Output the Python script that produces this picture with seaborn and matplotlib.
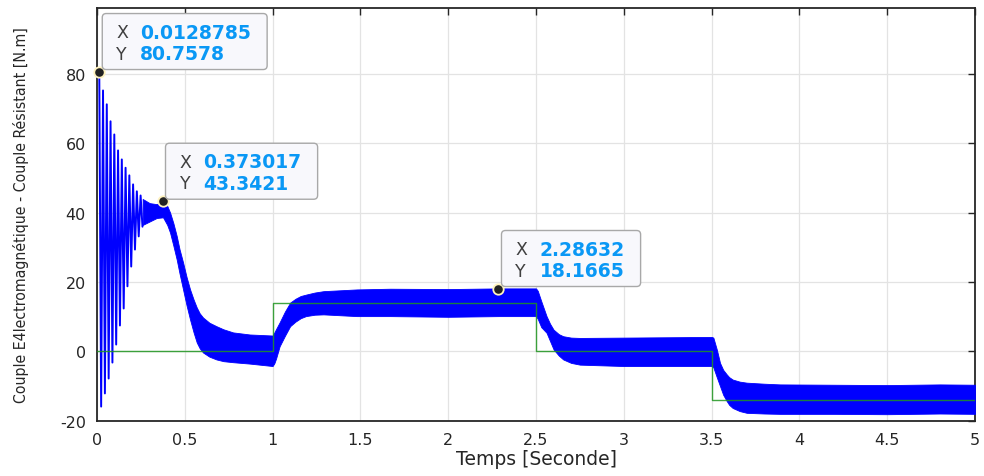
import numpy as np
import pandas as pd
import matplotlib
matplotlib.use("Agg")
import matplotlib.pyplot as plt
import matplotlib.transforms as mtransforms
from matplotlib.patches import FancyBboxPatch
from matplotlib import font_manager
import seaborn as sns

# ---------------- data ----------------
# start-up transient: alternating peaks / troughs of the torque
peak_t = [0.0129, 0.0343, 0.0557, 0.0771, 0.0985, 0.1199, 0.1413, 0.1627, 0.1841, 0.2055, 0.2269, 0.2483]
peak_v = [80.76, 75.3, 71.3, 66.4, 62.6, 58.0, 55.4, 53.0, 50.8, 48.2, 46.2, 45.0]
trough_t = [0.0236, 0.0450, 0.0664, 0.0878, 0.1092, 0.1306, 0.1520, 0.1734, 0.1948, 0.2162, 0.2376, 0.2590]
trough_v = [-15.9, -12.1, -7.8, -3.2, 2.0, 7.5, 12.4, 18.8, 24.5, 29.4, 33.2, 36.0]

# ripple band (upper / lower envelope of the electromagnetic torque)
env_t = [0.26, 0.30, 0.34, 0.376, 0.40, 0.416, 0.435, 0.454, 0.47, 0.49,
         0.51, 0.53, 0.55, 0.568, 0.585, 0.604, 0.64, 0.68, 0.72, 0.775,
         0.87, 1.0, 1.01, 1.02, 1.04, 1.07, 1.10, 1.13, 1.16, 1.19,
         1.24, 1.29, 1.48, 1.67, 2.0, 2.29, 2.5, 2.51, 2.53, 2.56,
         2.58, 2.60, 2.63, 2.655, 2.70, 2.75, 3.0, 3.25, 3.5, 3.51,
         3.53, 3.548, 3.566, 3.586, 3.60, 3.62, 3.66, 3.70, 3.80, 3.89,
         4.2, 4.5, 4.8, 5.0]
env_hi = [44.0, 42.8, 42.5, 43.3, 42.0, 40.1, 37.0, 33.3, 29.5, 25.7,
          21.5, 17.9, 15.0, 12.7, 11.0, 9.8, 8.3, 7.3, 6.4, 5.5,
          4.9, 4.6, 5.5, 6.5, 8.4, 11.5, 14.1, 15.2, 16.0, 16.4,
          17.0, 17.4, 17.9, 18.1, 18.0, 18.2, 18.2, 17.5, 14.5, 10.2,
          8.0, 6.3, 5.0, 4.4, 4.0, 3.9, 4.0, 4.1, 4.2, 4.0,
          0.5, -3.3, -5.3, -6.6, -7.4, -8.1, -8.7, -9.0, -9.3, -9.5,
          -9.6, -9.7, -9.5, -9.6]
env_lo = [36.5, 37.5, 38.5, 38.7, 36.5, 34.3, 30.5, 26.5, 22.5, 17.9,
          13.3, 9.2, 5.5, 2.6, 0.9, -0.3, -1.5, -2.3, -2.8, -3.1,
          -3.5, -4.2, -3.4, -2.0, 1.5, 4.5, 7.3, 8.6, 9.6, 10.2,
          10.6, 10.7, 10.2, 10.2, 10.0, 10.2, 10.2, 9.4, 7.0, 5.4,
          3.0, 0.6, -1.2, -2.3, -3.3, -3.8, -4.2, -4.2, -4.2, -4.6,
          -7.5, -10.0, -12.5, -14.3, -15.4, -16.3, -17.2, -17.7, -17.9, -18.0,
          -18.0, -18.1, -17.9, -18.0]

# load torque (step profile)
load_t = [0.0, 1.0, 2.5, 3.5, 5.0]
load_v = [0.0, 14.0, 0.0, -14.0, -14.0]

# data tips
tip_x = [0.0128785, 0.373017, 2.28632]
tip_y = [80.7578, 43.3421, 18.1665]

x_ticks = [0, 0.5, 1, 1.5, 2, 2.5, 3, 3.5, 4, 4.5, 5]
x_tick_labels = ["0", "0.5", "1", "1.5", "2", "2.5", "3", "3.5", "4", "4.5", "5"]
y_ticks = [-20, 0, 20, 40, 60, 80]
y_tick_labels = ["-20", "0", "20", "40", "60", "80"]

x_label = "Temps [Seconde]"
y_label = "Couple E4lectromagnétique - Couple Résistant [N.m]"

# ---------------- style ----------------
sns.set_theme(style="white")
plt.rcParams['font.family'] = ['DejaVu Sans']

# look for a condensed / narrow font for the y label
ylab_prop = None
for f in font_manager.fontManager.ttflist:
    nm = f.fname.lower()
    if f.weight in (400, 'normal', 'regular') and f.style == 'normal' and \
            ('narrow' in nm or 'condensed' in nm) and 'bold' not in nm and 'mono' not in nm:
        ylab_prop = font_manager.FontProperties(fname=f.fname)
        break
if ylab_prop is None:
    ylab_prop = font_manager.FontProperties(family='Liberation Sans')

W, H, DPI = 984, 477, 100
fig = plt.figure(figsize=(W / DPI, H / DPI), dpi=DPI)
fig.patch.set_facecolor('white')
ax_l, ax_r, ax_t, ax_b = 97, 975, 9.3, 421.8
ax = fig.add_axes([ax_l / W, 1 - ax_b / H, (ax_r - ax_l) / W, (ax_b - ax_t) / H])
ax.set_facecolor('white')

BLUE = '#0000ff'
GREEN = '#1f951f'

# transient zig-zag
zz_t = np.ravel(np.column_stack([peak_t, trough_t]))
zz_v = np.ravel(np.column_stack([peak_v, trough_v]))
df_zz = pd.DataFrame({'t': zz_t, 'v': zz_v})
sns.lineplot(data=df_zz, x='t', y='v', sort=False, estimator=None,
             color=BLUE, lw=1.4, ax=ax, zorder=3)

# ripple band
ax.fill_between(env_t, env_lo, env_hi, color=BLUE, lw=0.6, edgecolor=BLUE, zorder=3)

# load torque
df_load = pd.DataFrame({'t': load_t, 'v': load_v})
sns.lineplot(data=df_load, x='t', y='v', sort=False, estimator=None,
             drawstyle='steps-post', color=GREEN, lw=1.0, alpha=0.85, ax=ax, zorder=4)

# axes
ax.set_xlim(0, 5)
ax.set_ylim(-20, 99)
ax.set_xticks(x_ticks)
ax.set_xticklabels(x_tick_labels)
ax.set_yticks(y_ticks)
ax.set_yticklabels(y_tick_labels)
ax.grid(True, color='#e3e3e3', lw=0.9)
ax.set_axisbelow(True)
for s in ax.spines.values():
    s.set_visible(True)
    s.set_color('#262626')
    s.set_linewidth(1.3)
ax.tick_params(axis='both', which='both', direction='in', length=5, width=1.0,
               color='#262626', labelcolor='#262626', labelsize=11.5,
               top=True, right=True, pad=8)

ax.set_xlabel(x_label, fontsize=13.5, color='#262626')
ax.xaxis.set_label_coords(0.5, -(450 - ax_b) / (ax_b - ax_t))
ax.set_ylabel(y_label, fontproperties=ylab_prop, color='#262626')
ax.yaxis.label.set_fontsize(13)
ax.yaxis.set_label_coords(-(98 - 30) / (ax_r - ax_l), 0.5)

fig.canvas.draw()
renderer = fig.canvas.get_renderer()
# fit y label length to the reference (~375 px)
ylab = ax.yaxis.label
ext = ylab.get_window_extent(renderer)
ylab.set_fontsize(13 * 375.0 / ext.height)

# data tips
for tx, ty in zip(tip_x, tip_y):
    ax.plot([tx], [ty], marker='o', ms=7.5, mfc='#222222', mec='#fff3c0',
            mew=1.3, zorder=9, clip_on=False, ls='none')
    bx, by = ax.transData.transform((tx, ty))
    trans = mtransforms.Affine2D().translate(bx, by)
    left, bottom, hgt = 3.0, 2.0, 56.0
    top = bottom + hgt
    rows = [("X", f"{tx:g}", top - 18.5), ("Y", f"{ty:g}", top - 40.0)]
    widths = []
    for lab, val, yy in rows:
        ax.text(left + 14, yy, lab, transform=trans, ha='left', va='center',
                fontsize=12.5, color='#404040', zorder=11, clip_on=False)
        t2 = ax.text(left + 38, yy, val, transform=trans, ha='left', va='center',
                     fontsize=13.5, fontweight='bold', color='#0a98f5',
                     zorder=11, clip_on=False)
        widths.append(t2.get_window_extent(renderer).width)
    wbox = 38 + max(widths) + 16
    box = FancyBboxPatch((left, bottom), wbox, hgt,
                         boxstyle='round,pad=0,rounding_size=4',
                         transform=trans, fc='#f8f8fc', ec='#a8a8a8', lw=1.0,
                         zorder=10, clip_on=False)
    ax.add_patch(box)

fig.savefig('out.png', dpi=DPI, facecolor='white')
